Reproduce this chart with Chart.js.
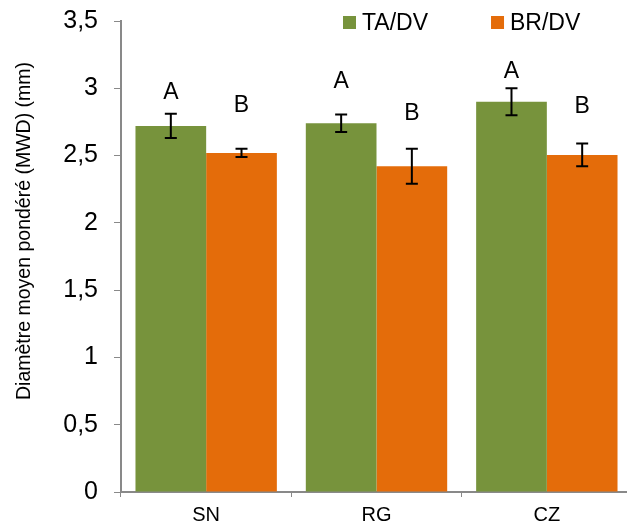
<!DOCTYPE html>
<html>
<head>
<meta charset="utf-8">
<script src="https://cdn.jsdelivr.net/npm/chart.js@4"></script>
<style>
  html, body { margin: 0; padding: 0; background: #fff; overflow: hidden; }
  #box { width: 632px; height: 543px; margin-top: -10px; position: relative; }
</style>
</head>
<body>
<div id="box"><canvas id="chart"></canvas></div>
<script>
// data
var sites = ["SN", "RG", "CZ"];
var seriesNames = ["TA/DV", "BR/DV"];
var taValues = [2.72, 2.74, 2.90];
var brValues = [2.52, 2.42, 2.505];
var taErrors = [0.09, 0.065, 0.10];
var brErrors = [0.03, 0.13, 0.085];
var taLetters = ["A", "A", "A"];
var brLetters = ["B", "B", "B"];
var taLetterPos = [2.97, 3.05, 3.12];
var brLetterPos = [2.87, 2.81, 2.86];
var yTicks = [0, 0.5, 1, 1.5, 2, 2.5, 3, 3.5];
var yTitle = "Diamètre moyen pondéré (MWD) (mm)";

var FONT = "'Liberation Sans', Arial, sans-serif";
var axisGrey = "#898989";
var SHIFT = 10; // canvas is pulled up by this much

// error bars + letters above the bars
var extras = {
  id: "extras",
  afterDatasetsDraw: function (chart) {
    var ctx = chart.ctx;
    var y = chart.scales.y;
    var errs = [taErrors, brErrors];
    var vals = [taValues, brValues];
    var letters = [taLetters, brLetters];
    var lpos = [taLetterPos, brLetterPos];
    ctx.save();
    for (var d = 0; d < 2; d++) {
      var meta = chart.getDatasetMeta(d);
      meta.data.forEach(function (bar, i) {
        var top = y.getPixelForValue(vals[d][i] + errs[d][i]);
        var bot = y.getPixelForValue(vals[d][i] - errs[d][i]);
        ctx.strokeStyle = "#000";
        ctx.lineWidth = 2;
        ctx.beginPath();
        ctx.moveTo(bar.x, top); ctx.lineTo(bar.x, bot);
        ctx.moveTo(bar.x - 6, top); ctx.lineTo(bar.x + 6, top);
        ctx.moveTo(bar.x - 6, bot); ctx.lineTo(bar.x + 6, bot);
        ctx.stroke();
        ctx.fillStyle = "#000";
        ctx.font = "23px " + FONT;
        ctx.textAlign = "center";
        ctx.textBaseline = "middle";
        ctx.fillText(letters[d][i], bar.x, y.getPixelForValue(lpos[d][i]));
      });
    }
    ctx.restore();
  },
  afterDraw: function (chart) {
    var ctx = chart.ctx;
    ctx.save();
    // legend
    var x = 343;
    ctx.font = "23px " + FONT;
    ctx.textBaseline = "middle";
    ctx.textAlign = "left";
    chart.data.datasets.forEach(function (ds) {
      ctx.fillStyle = ds.backgroundColor;
      ctx.fillRect(x, 16 + SHIFT, 13, 13);
      ctx.fillStyle = "#000";
      ctx.fillText(ds.label, x + 19, 23.5 + SHIFT);
      x += 19 + ctx.measureText(ds.label).width + 63;
    });
    // y axis title
    ctx.translate(25, 231 + SHIFT);
    ctx.rotate(-Math.PI / 2);
    ctx.font = "19.5px " + FONT;
    ctx.textAlign = "center";
    ctx.fillText(yTitle, 0, 0);
    ctx.restore();
  }
};

new Chart(document.getElementById("chart"), {
  type: "bar",
  data: {
    labels: sites,
    datasets: [
      { label: seriesNames[0], data: taValues, backgroundColor: "#77933C" },
      { label: seriesNames[1], data: brValues, backgroundColor: "#E46C0A" }
    ]
  },
  options: {
    responsive: true,
    maintainAspectRatio: false,
    animation: false,
    categoryPercentage: 0.83,
    barPercentage: 1.0,
    plugins: { legend: { display: false }, tooltip: { enabled: false } },
    scales: {
      x: {
        grid: { drawOnChartArea: false, tickLength: 5, color: axisGrey, offset: true },
        border: { color: axisGrey, width: 2 },
        ticks: { color: "#000", font: { family: FONT, size: 20 }, padding: 6 }
      },
      y: {
        min: 0,
        max: 3.5,
        afterBuildTicks: function (scale) {
          scale.ticks = yTicks.map(function (v) { return { value: v }; });
        },
        afterFit: function (scale) { scale.width = 121; },
        grid: { drawOnChartArea: false, tickLength: 7, color: axisGrey },
        border: { color: axisGrey, width: 2 },
        ticks: {
          color: "#000",
          font: { family: FONT, size: 25 },
          padding: 16,
          callback: function (v) { return String(v).replace(".", ","); }
        }
      }
    }
  },
  plugins: [extras]
});
</script>
</body>
</html>
